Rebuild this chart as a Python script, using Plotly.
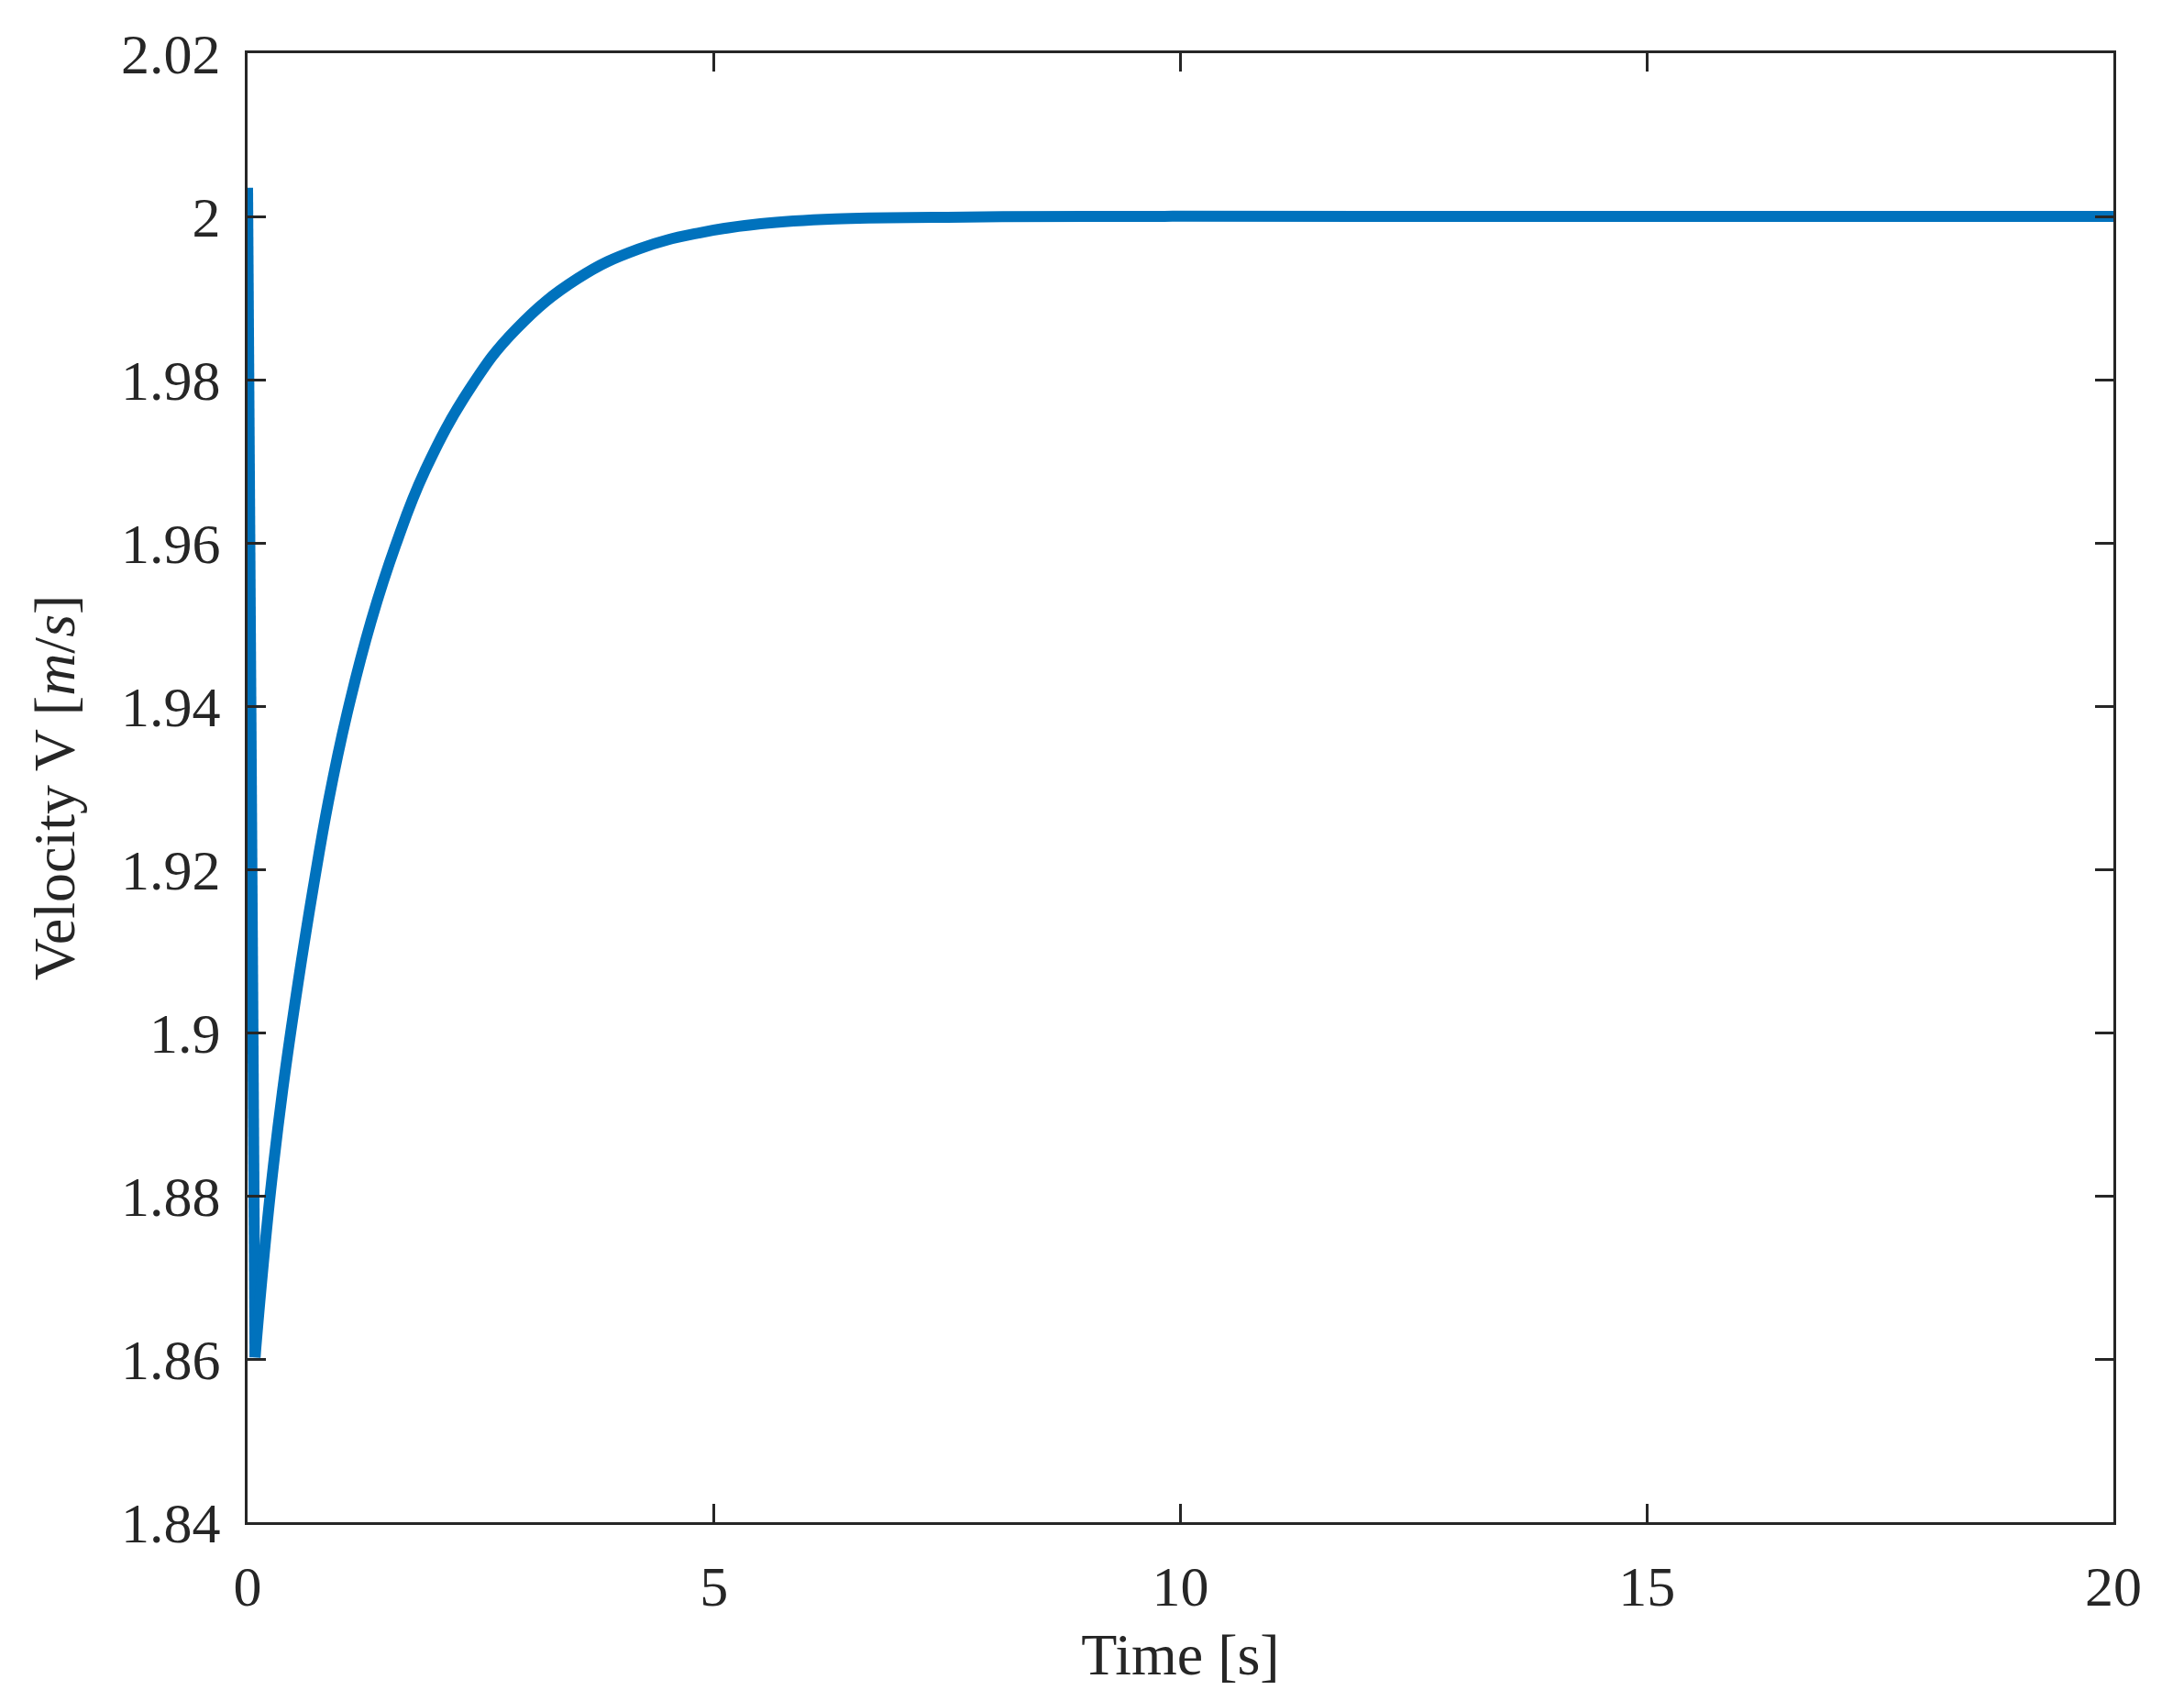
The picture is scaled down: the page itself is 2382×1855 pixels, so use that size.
import plotly.graph_objects as go

# -- DATA --

# initial drop: t = 0 -> minimum
t_drop = [0.0, 0.08]
v_drop = [2.0035, 1.8602]

# recovery back to 2 m/s
t_rise = [0.08, 0.147, 0.246, 0.377, 0.54, 0.705, 0.868, 1.065, 1.327, 1.59,
          1.9, 2.39, 2.88, 3.54, 4.19, 4.85, 5.5, 6.3, 7.5, 9.0, 12.0, 16.0, 20.0]
v_rise = [1.8602, 1.8690, 1.8805, 1.8930, 1.9060, 1.9178, 1.9284, 1.9390, 1.9505,
          1.9598, 1.9688, 1.9790, 1.9862, 1.9924, 1.9960, 1.9980, 1.9991, 1.9997,
          1.9999, 2.0, 2.0, 2.0, 2.0]

x_ticks = [0, 5, 10, 15, 20]
y_ticks = [1.84, 1.86, 1.88, 1.9, 1.92, 1.94, 1.96, 1.98, 2.0, 2.02]
y_ticktext = ["1.84", "1.86", "1.88", "1.9", "1.92", "1.94", "1.96", "1.98", "2", "2.02"]

# -- STYLE --

LINE_COLOR = "#0072BD"
AXIS_COLOR = "#262626"
FONT = "Liberation Serif"

fig = go.Figure()

fig.add_trace(go.Scatter(
    x=t_drop, y=v_drop, mode="lines",
    line=dict(color=LINE_COLOR, width=12),
    showlegend=False, hoverinfo="skip",
))
fig.add_trace(go.Scatter(
    x=t_rise, y=v_rise, mode="lines",
    line=dict(color=LINE_COLOR, width=12, shape="spline", smoothing=1.2),
    showlegend=False,
))

axis_common = dict(
    showline=True, linecolor=AXIS_COLOR, linewidth=3,
    mirror="ticks", ticks="inside", ticklen=20, tickwidth=2.5, tickcolor=AXIS_COLOR,
    showgrid=False, zeroline=False,
    tickfont=dict(family=FONT, size=62, color=AXIS_COLOR),
)

fig.update_xaxes(
    range=[0, 20], tickvals=x_ticks,
    title=dict(text="Time [s]", font=dict(family=FONT, size=64, color=AXIS_COLOR), standoff=18),
    ticklabelstandoff=14,
    **axis_common,
)
fig.update_yaxes(
    range=[1.84, 2.02], tickvals=y_ticks, ticktext=y_ticktext,
    title=dict(text="Velocity V [<i>m</i>/<i>s</i>]",
               font=dict(family=FONT, size=64, color=AXIS_COLOR), standoff=30),
    ticklabelstandoff=14,
    **axis_common,
)

# the page body adds an 8px offset, so margins are shifted to compensate
fig.update_layout(
    width=2382, height=1855,
    margin=dict(l=262, r=85, t=50, b=203),
    paper_bgcolor="white", plot_bgcolor="white",
    showlegend=False,
)

fig.write_html("out.html")
